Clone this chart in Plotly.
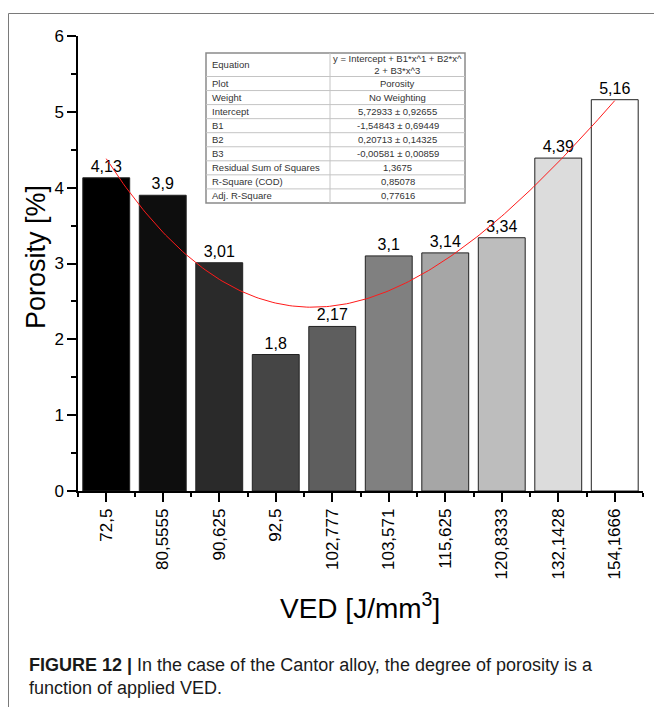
import plotly.graph_objects as go

# ---------------- data ----------------
ved_labels = ["72,5", "80,5555", "90,625", "92,5", "102,777", "103,571",
              "115,625", "120,8333", "132,1428", "154,1666"]
porosity = [4.13, 3.9, 3.01, 1.8, 2.17, 3.1, 3.14, 3.34, 4.39, 5.16]
bar_colors = ["#000000", "#0e0e0e", "#2a2a2a", "#454545", "#5e5e5e",
              "#808080", "#a6a6a6", "#bdbdbd", "#dcdcdc", "#ffffff"]

# cubic fit shown in the inset table (x = bar index 1..10)
fit_coeffs = [5.72933, -1.54843, 0.20713, -0.00581]

table_labels = ["Equation", "Plot", "Weight", "Intercept", "B1", "B2", "B3",
                "Residual Sum of Squares", "R-Square (COD)", "Adj. R-Square"]
table_values = ["y = Intercept + B1*x^1 + B2*x^<br>2 + B3*x^3", "Porosity",
                "No Weighting", "5,72933 ± 0,92655", "-1,54843 ± 0,69449",
                "0,20713 ± 0,14325", "-0,00581 ± 0,00859", "1,3675",
                "0,85078", "0,77616"]

caption_1 = "<b>FIGURE 12 |</b> In the case of the Cantor alloy, the degree of porosity is a"
caption_2 = "function of applied VED."

# ---------------- geometry helpers ----------------
W_FIG, H_FIG = 654, 707
L, R, T, B = 78, 643, 36, 491
PW, PH = R - L, B - T


def px(x):
    return (x - L) / PW


def py(y):
    return (B - y) / PH


FONT = "Liberation Sans, Arial, sans-serif"

fig = go.Figure()

idx = list(range(len(porosity)))
fig.add_trace(go.Bar(
    x=idx, y=porosity, width=0.83,
    marker=dict(color=bar_colors, line=dict(color="#222222", width=1)),
    text=[str(v).replace(".", ",") for v in porosity],
    textposition="outside", cliponaxis=False,
    textfont=dict(family=FONT, size=16, color="#000000"),
    showlegend=False, hoverinfo="skip",
))

# fitted polynomial curve
n_steps = 180
xs_fit = [1 + 9 * i / n_steps for i in range(n_steps + 1)]
ys_fit = [sum(c * x ** k for k, c in enumerate(fit_coeffs)) for x in xs_fit]
fig.add_trace(go.Scatter(
    x=[x - 1 for x in xs_fit], y=ys_fit, mode="lines",
    line=dict(color="#ff1a1a", width=1), showlegend=False, hoverinfo="skip",
))

shapes = []
annotations = []

# frame lines around figure
shapes.append(dict(type="line", xref="paper", yref="paper",
                   x0=px(8.5), x1=px(654), y0=py(13.5), y1=py(13.5),
                   line=dict(color="#7a7a7a", width=1)))
shapes.append(dict(type="line", xref="paper", yref="paper",
                   x0=px(8.5), x1=px(8.5), y0=py(13.5), y1=py(707),
                   line=dict(color="#7a7a7a", width=1)))

# inset table
tx0, tx1, tdiv = 206, 465, 330
row_edges = [53, 76.5]
for k in range(1, len(table_labels)):
    row_edges.append(76.5 + 14.05 * k)
shapes.append(dict(type="rect", xref="paper", yref="paper",
                   x0=px(tx0), x1=px(tx1), y0=py(row_edges[-1]), y1=py(row_edges[0]),
                   fillcolor="#ffffff", line=dict(color="#8a8a8a", width=1.5), layer="above"))
for ye in row_edges[1:-1]:
    shapes.append(dict(type="line", xref="paper", yref="paper",
                       x0=px(tx0), x1=px(tx1), y0=py(ye), y1=py(ye),
                       line=dict(color="#c4c4c4", width=1), layer="above"))
shapes.append(dict(type="line", xref="paper", yref="paper",
                   x0=px(tdiv), x1=px(tdiv), y0=py(row_edges[-1]), y1=py(row_edges[0]),
                   line=dict(color="#c4c4c4", width=1), layer="above"))
for i, (lab, val) in enumerate(zip(table_labels, table_values)):
    yc = (row_edges[i] + row_edges[i + 1]) / 2
    annotations.append(dict(xref="paper", yref="paper", x=px(tx0 + 4), y=py(yc),
                            xanchor="left", yanchor="middle", text=lab, showarrow=False,
                            font=dict(family=FONT, size=9.5, color="#333333")))
    annotations.append(dict(xref="paper", yref="paper", x=px((tdiv + tx1) / 2), y=py(yc),
                            xanchor="center", yanchor="middle", text=val, showarrow=False,
                            align="center",
                            font=dict(family=FONT, size=9.5, color="#333333")))

# x-axis title
annotations.append(dict(xref="paper", yref="paper", x=px(360), y=py(606),
                        xanchor="center", yanchor="middle",
                        text="VED [J/mm<sup>3</sup>]", showarrow=False,
                        font=dict(family=FONT, size=28, color="#000000")))

# y-axis title
annotations.append(dict(xref="paper", yref="paper", x=px(36), y=py(257),
                        xanchor="center", yanchor="middle", textangle=-90,
                        text="Porosity [%]", showarrow=False,
                        font=dict(family=FONT, size=27, color="#000000")))

# caption
annotations.append(dict(xref="paper", yref="paper", x=px(27), y=py(665),
                        xanchor="left", yanchor="middle", text=caption_1, showarrow=False,
                        font=dict(family=FONT, size=18, color="#1a1a1a")))
annotations.append(dict(xref="paper", yref="paper", x=px(27), y=py(688),
                        xanchor="left", yanchor="middle", text=caption_2, showarrow=False,
                        font=dict(family=FONT, size=18, color="#1a1a1a")))

fig.update_layout(
    width=W_FIG, height=H_FIG, autosize=False,
    margin=dict(l=L, r=W_FIG - R, t=T, b=H_FIG - B, pad=0),
    paper_bgcolor="#ffffff", plot_bgcolor="#ffffff",
    bargap=0.17, shapes=shapes, annotations=annotations,
    font=dict(family=FONT, color="#000000"),
)

fig.update_xaxes(
    range=[-0.5, 9.5], tickmode="array", tickvals=idx, ticktext=ved_labels,
    tickangle=-90, tickfont=dict(family=FONT, size=17, color="#000000"),
    showline=True, linecolor="#000000", linewidth=1.5, mirror=False,
    ticks="outside", ticklen=9, tickwidth=1.5, tickcolor="#000000",
    minor=dict(tickmode="array", tickvals=[i - 0.5 for i in range(11)],
               ticks="outside", ticklen=4, tickwidth=1.5, tickcolor="#000000"),
    showgrid=False, zeroline=False, fixedrange=True,
)
fig.update_yaxes(
    range=[0, 6], tickmode="linear", tick0=0, dtick=1,
    tickfont=dict(family=FONT, size=17, color="#000000"),
    showline=True, linecolor="#000000", linewidth=1.5,
    ticks="outside", ticklen=9, tickwidth=1.5, tickcolor="#000000",
    minor=dict(tick0=0, dtick=0.5, ticks="outside", ticklen=5,
               tickwidth=1.5, tickcolor="#000000"),
    showgrid=False, zeroline=False, fixedrange=True,
)

fig.write_html(
    "out.html",
    config={"displayModeBar": False},
    post_script="document.body.style.margin='0';document.body.style.overflow='hidden';",
)
